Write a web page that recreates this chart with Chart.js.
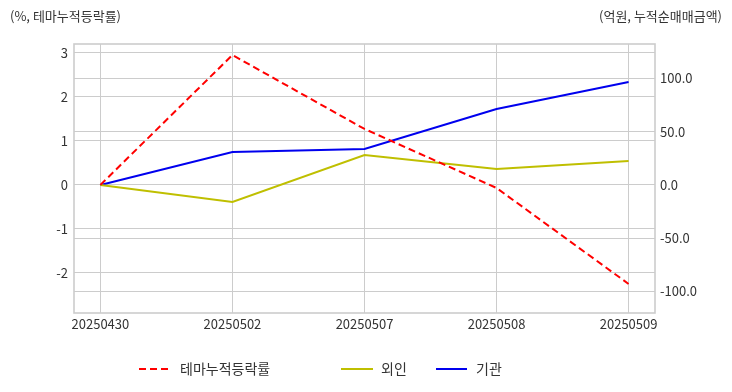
<!DOCTYPE html>
<html>
<head>
<meta charset="utf-8">
<script src="https://cdn.jsdelivr.net/npm/chart.js@4"></script>
<style>
  html, body { margin: 0; padding: 0; background: #fff; }
  #wrap { position: relative; width: 732px; height: 392px; }
</style>
</head>
<body>
<div id="wrap"><canvas id="chart" width="732" height="392"></canvas></div>
<script>
// 날짜 / 시리즈 값
const dates = ['20250430', '20250502', '20250507', '20250508', '20250509'];
const themeRate = [0, 2.95, 1.27, -0.07, -2.25];     // %, 테마누적등락률 (왼쪽 축)
const foreign = [0, -16, 28.2, 15, 22.5];            // 억원, 외인 (오른쪽 축)
const institution = [0, 31, 33.8, 71.4, 96.7];       // 억원, 기관 (오른쪽 축)

const FONT = '"Noto Sans CJK KR", "Noto Sans", sans-serif';
const TXT = '#333333';
const GRID = '#cccccc';

const toXY = arr => arr.map((v, i) => ({ x: i, y: v }));

// 테두리, 축 제목, 범례를 직접 그림
const decor = {
  id: 'decor',
  afterDraw(chart) {
    const { ctx, chartArea: a } = chart;
    ctx.save();
    ctx.strokeStyle = GRID;
    ctx.lineWidth = 1.6;
    ctx.strokeRect(a.left, a.top, a.right - a.left, a.bottom - a.top);

    ctx.fillStyle = TXT;
    ctx.font = `13px ${FONT}`;
    ctx.textBaseline = 'middle';
    ctx.textAlign = 'left';
    ctx.fillText('(%, 테마누적등락률)', 10, 16);
    ctx.textAlign = 'right';
    ctx.fillText('(억원, 누적순매매금액)', 722, 16);

    const items = [
      { x1: 139, x2: 172, tx: 180, label: '테마누적등락률', color: 'red', dash: [7, 4] },
      { x1: 341, x2: 373, tx: 381, label: '외인', color: '#bfbf00', dash: [] },
      { x1: 436, x2: 467, tx: 476, label: '기관', color: '#0000ee', dash: [] },
    ];
    const ly = 369;
    ctx.font = `14px ${FONT}`;
    ctx.textAlign = 'left';
    items.forEach(it => {
      ctx.strokeStyle = it.color;
      ctx.lineWidth = 2;
      ctx.setLineDash(it.dash);
      ctx.beginPath();
      ctx.moveTo(it.x1, ly);
      ctx.lineTo(it.x2, ly);
      ctx.stroke();
      ctx.setLineDash([]);
      ctx.fillStyle = TXT;
      ctx.fillText(it.label, it.tx, ly);
    });
    ctx.restore();
  }
};

new Chart(document.getElementById('chart'), {
  type: 'line',
  data: {
    datasets: [
      {
        label: '테마누적등락률',
        data: toXY(themeRate),
        yAxisID: 'yL',
        borderColor: 'red',
        borderWidth: 2,
        borderDash: [7, 4],
        pointRadius: 0,
        tension: 0,
      },
      {
        label: '외인',
        data: toXY(foreign),
        yAxisID: 'yR',
        borderColor: '#bfbf00',
        borderWidth: 2,
        pointRadius: 0,
        tension: 0,
      },
      {
        label: '기관',
        data: toXY(institution),
        yAxisID: 'yR',
        borderColor: '#0000ee',
        borderWidth: 2,
        pointRadius: 0,
        tension: 0,
      },
    ],
  },
  options: {
    responsive: false,
    animation: false,
    layout: { padding: { top: 44, left: 0, right: 0, bottom: 0 } },
    plugins: { legend: { display: false }, tooltip: { enabled: false } },
    scales: {
      x: {
        type: 'linear',
        min: -0.2,
        max: 4.2,
        afterFit: s => { s.height = 79; },
        afterBuildTicks: s => { s.ticks = dates.map((_, i) => ({ value: i })); },
        ticks: {
          color: TXT,
          font: { family: FONT, size: 13 },
          padding: 3,
          maxRotation: 0,
          callback: v => dates[v] ?? '',
        },
        grid: { color: GRID, lineWidth: 1, drawTicks: false },
        border: { display: false },
      },
      yL: {
        position: 'left',
        min: -2.91,
        max: 3.2,
        afterFit: s => { s.width = 74; },
        ticks: {
          stepSize: 1,
          includeBounds: false,
          color: TXT,
          font: { family: FONT, size: 13 },
          padding: 6,
        },
        grid: { color: GRID, lineWidth: 1, drawTicks: false },
        border: { display: false },
      },
      yR: {
        position: 'right',
        min: -120.2,
        max: 132.4,
        afterFit: s => { s.width = 77; },
        ticks: {
          stepSize: 50,
          includeBounds: false,
          color: TXT,
          font: { family: FONT, size: 13 },
          padding: 5,
          callback: v => v.toFixed(1),
        },
        grid: { color: GRID, lineWidth: 1, drawTicks: false },
        border: { display: false },
      },
    },
  },
  plugins: [decor],
});
</script>
</body>
</html>
